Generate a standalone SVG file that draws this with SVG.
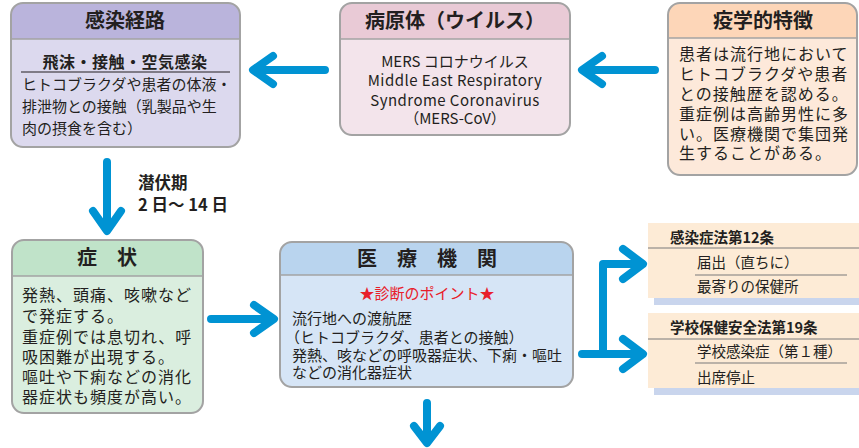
<svg xmlns="http://www.w3.org/2000/svg" width="859" height="448" viewBox="0 0 859 448">
<style>
text{font-family:"Noto Sans CJK JP","Noto Sans",sans-serif;fill:#231f20}
.title{font-size:20px;font-weight:bold;text-anchor:middle}
.b15{font-size:15px}
.b16{font-size:16px;letter-spacing:1px}
.bold{font-weight:bold}
.frame{fill:none;stroke:#a3a3a3;stroke-width:2}
.sep{stroke:#a3a3a3;stroke-width:1.5}
.law{fill:#fdebd6}
.strip{fill:#c9d5ed}
.lawline{stroke:#7a7a7a;stroke-width:1.2}
.lt{font-size:14.5px}
.arrow{fill:none;stroke:#0093d3;stroke-width:8;stroke-linecap:round;stroke-linejoin:round}
</style>
<rect width="859" height="448" fill="#ffffff"/>

<g id="node-kansen-keiro">
<rect x="11" y="3" width="229" height="144" rx="12" fill="#dcd9ee"/>
<path d="M11,39 V15 a12,12 0 0 1 12,-12 H228 a12,12 0 0 1 12,12 V39 Z" fill="#bab4dc"/>
<line x1="11" y1="39" x2="240" y2="39" class="sep"/>
<rect x="11" y="3" width="229" height="144" rx="12" class="frame"/>
<text x="125" y="28" class="title">感染経路</text>
<text x="125" y="68" class="bold" font-size="16" text-anchor="middle" letter-spacing="0.5">飛沫・接触・空気感染</text>
<line x1="21" y1="72" x2="230" y2="72" stroke="#231f20" stroke-width="1.2"/>
<text x="22" y="89.5" class="b15">ヒトコブラクダや患者の体液・</text>
<text x="22" y="111.5" class="b15">排泄物との接触（乳製品や生</text>
<text x="22" y="133.5" class="b15">肉の摂食を含む）</text>
</g>

<g id="node-byogentai">
<rect x="340" y="3" width="230" height="132" rx="12" fill="#f3e4eb"/>
<path d="M340,39 V15 a12,12 0 0 1 12,-12 H558 a12,12 0 0 1 12,12 V39 Z" fill="#e9cad6"/>
<line x1="340" y1="39" x2="570" y2="39" class="sep"/>
<rect x="340" y="3" width="230" height="132" rx="12" class="frame"/>
<text x="455" y="28" class="title">病原体（ウイルス）</text>
<text x="455" y="66.5" class="b15" text-anchor="middle">MERS コロナウイルス</text>
<text x="455" y="86" class="b15" text-anchor="middle" letter-spacing="0.45">Middle East Respiratory</text>
<text x="455" y="105.5" class="b15" text-anchor="middle" letter-spacing="0.45">Syndrome Coronavirus</text>
<text x="455" y="124" class="b15" text-anchor="middle">（MERS-CoV）</text>
</g>

<g id="node-ekigaku">
<rect x="668" y="3" width="189" height="172" rx="12" fill="#fde9da"/>
<path d="M668,38 V15 a12,12 0 0 1 12,-12 H845 a12,12 0 0 1 12,12 V38 Z" fill="#fdd6b8"/>
<line x1="668" y1="38" x2="857" y2="38" class="sep"/>
<rect x="668" y="3" width="189" height="172" rx="12" class="frame"/>
<text x="763" y="28" class="title">疫学的特徴</text>
<text x="679" y="60" class="b16">患者は流行地において</text>
<text x="679" y="80" class="b16">ヒトコブラクダや患者</text>
<text x="679" y="100" class="b16">との接触歴を認める。</text>
<text x="679" y="120" class="b16">重症例は高齢男性に多</text>
<text x="679" y="140" class="b16">い。医療機関で集団発</text>
<text x="679" y="159" class="b16">生することがある。</text>
</g>

<g id="label-senpukuki">
<text x="138" y="189" class="bold" font-size="16.5">潜伏期</text>
<text x="138" y="211" class="bold" font-size="16.5">2 日〜 14 日</text>
</g>

<g id="node-shojo">
<rect x="12" y="240" width="191" height="173" rx="12" fill="#daeedf"/>
<path d="M12,276 V252 a12,12 0 0 1 12,-12 H191 a12,12 0 0 1 12,12 V276 Z" fill="#c0e3c9"/>
<line x1="12" y1="276" x2="203" y2="276" class="sep"/>
<rect x="12" y="240" width="191" height="173" rx="12" class="frame"/>
<text x="107" y="265" class="title">症　状</text>
<text x="22" y="301" class="b16">発熱、頭痛、咳嗽など</text>
<text x="22" y="322" class="b16">で発症する。</text>
<text x="22" y="343" class="b16">重症例では息切れ、呼</text>
<text x="22" y="363" class="b16">吸困難が出現する。</text>
<text x="22" y="383" class="b16">嘔吐や下痢などの消化</text>
<text x="22" y="403" class="b16">器症状も頻度が高い。</text>
</g>

<g id="node-iryo-kikan">
<rect x="280" y="242" width="293" height="145" rx="12" fill="#d6e5f6"/>
<path d="M280,275 V254 a12,12 0 0 1 12,-12 H561 a12,12 0 0 1 12,12 V275 Z" fill="#b9d4ee"/>
<line x1="280" y1="275" x2="573" y2="275" class="sep"/>
<rect x="280" y="242" width="293" height="145" rx="12" class="frame"/>
<text x="427" y="266" class="title">医　療　機　関</text>
<text x="427" y="299" class="b15" text-anchor="middle" style="fill:#e8202a">★診断のポイント★</text>
<text x="292" y="323.5" class="b15">流行地への渡航歴</text>
<text x="285" y="342.5" class="b15">（ヒトコブラクダ、患者との接触）</text>
<text x="292" y="360.5" class="b15">発熱、咳などの呼吸器症状、下痢・嘔吐</text>
<text x="292" y="378" class="b15">などの消化器症状</text>
</g>

<g id="node-kansenshoho">
<rect x="654" y="292" width="205" height="13" class="strip"/>
<rect x="648" y="223" width="211" height="75" class="law"/>
<line x1="648" y1="248" x2="859" y2="248" class="lawline"/>
<line x1="695" y1="275" x2="847" y2="275" class="lawline"/>
<text x="670" y="243" class="lt bold">感染症法第12条</text>
<text x="697" y="268" class="lt">届出（直ちに）</text>
<text x="697" y="292" class="lt">最寄りの保健所</text>
</g>

<g id="node-gakko-hoken">
<rect x="654" y="382" width="205" height="13" class="strip"/>
<rect x="648" y="313" width="211" height="75" class="law"/>
<line x1="648" y1="339" x2="859" y2="339" class="lawline"/>
<line x1="695" y1="363" x2="847" y2="363" class="lawline"/>
<text x="670" y="333" class="lt bold">学校保健安全法第19条</text>
<text x="697" y="357" class="lt">学校感染症（第１種）</text>
<text x="697" y="383" class="lt">出席停止</text>
</g>

<g id="connectors">
<path class="arrow" d="M325,70 H255 M273,56 L253,70 L273,84"/>
<path class="arrow" d="M655,70 H584 M602,56 L582,70 L602,84"/>
<path class="arrow" d="M107,162 V229 M93,211 L107,231 L121,211"/>
<path class="arrow" d="M211,319 H272 M254,305 L274,319 L254,333"/>
<path class="arrow" d="M427,403 V442 M414,426 L427,443 L440,426"/>
<path class="arrow" d="M582,354 H641 M603,354 V264 H641 M623,249 L643,264 L623,279 M623,339 L643,354 L623,369"/>
</g>
</svg>
